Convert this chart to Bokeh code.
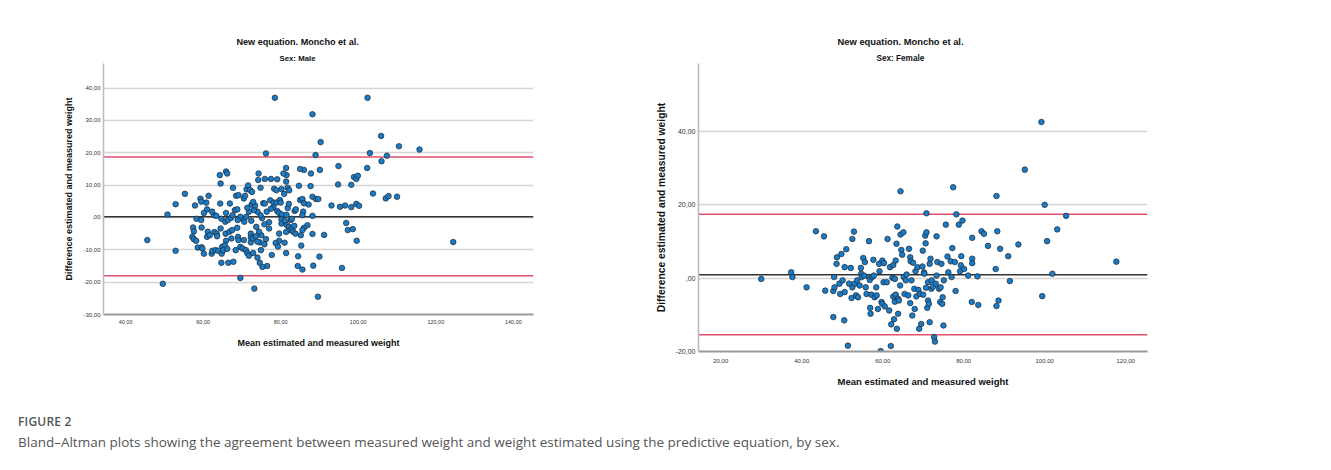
from bokeh.plotting import figure
from bokeh.models import Span, Title, CustomJSTickFormatter, FixedTicker, Range1d, Div
from bokeh.layouts import row, column
from bokeh.embed import file_html
from bokeh.resources import INLINE

# ---------------- data ----------------
male_mean = [45.6, 49.6, 50.8, 52.9, 52.9, 55.3, 78.5, 102.4, 88.2, 90.3, 76.2, 89.0, 105.9, 110.5, 115.8,
             103.0, 107.4, 102.3, 106.0, 94.9, 94.8, 98.2, 98.9, 99.5, 99.9, 103.8, 107.1, 107.8, 110.0, 124.5,
             93.1, 95.3, 96.6, 98.2, 99.5, 100.2, 96.9, 97.3, 98.6, 99.6, 95.8, 91.2, 90.0, 88.4, 89.6,
             84.5, 84.4, 85.6, 73.2, 69.6, 90.1, 88.2, 89.1, 89.7, 87.8, 87.7, 88.2, 88.2, 86.0, 85.0,
             84.7, 85.0, 85.6, 86.0, 87.2, 85.8, 85.6, 86.9, 86.0, 85.6, 85.2, 85.3, 81.4, 81.5, 80.7,
             81.4, 81.8, 82.2, 80.9, 80.2, 79.1, 77.5, 75.9, 74.3, 74.2, 74.8, 75.5, 75.9, 77.3, 78.2,
             78.9, 79.8, 80.0, 78.3, 78.9, 78.1, 77.5, 76.4, 79.1, 79.6, 80.3, 81.8, 82.1, 81.5, 82.6,
             82.9, 83.6, 83.9, 80.2, 80.2, 81.1, 81.6, 82.1, 82.5, 83.0, 83.5, 83.2, 83.8, 81.4, 81.0,
             81.4, 79.6, 79.6, 78.7, 79.3, 77.7, 76.5, 75.3, 74.6, 74.0, 74.9, 74.6, 75.8, 76.2, 75.0,
             74.4, 73.7, 77.0, 77.0, 75.8, 75.2, 74.8, 74.0, 73.1, 72.5, 73.4, 71.8, 71.1, 70.6, 69.9,
             69.6, 68.9, 68.2, 68.8, 68.5, 67.7, 69.1, 70.5, 70.8, 71.2, 71.6, 72.1, 72.6, 71.4, 72.9,
             65.9, 66.2, 64.3, 64.5, 64.4, 66.9, 65.9, 64.7, 65.7, 66.4, 67.2, 67.6, 62.8, 63.4, 62.3,
             61.0, 60.8, 61.4, 59.3, 59.5, 60.2, 57.9, 58.3, 59.5, 57.4, 57.6, 57.2, 57.6, 58.2, 58.6,
             59.6, 59.8, 60.2, 59.6, 61.2, 61.0, 61.7, 62.2, 62.4, 62.9, 63.5, 64.5, 63.6, 63.2, 63.9,
             64.8, 64.9, 65.2, 64.7, 65.9, 65.8, 65.6, 66.2, 66.5, 66.8, 67.5, 67.3, 67.8, 68.4, 68.8,
             69.0, 69.1, 69.6, 70.2, 70.5, 71.0, 71.4, 71.8, 72.3, 72.3, 72.3, 72.8, 72.4, 72.9, 73.6,
             74.0]
male_diff = [-7.0, -20.5, 0.9, 4.1, -10.3, 7.3, 37.0, 37.0, 31.9, 23.3, 19.8, 19.3, 25.2, 22.0, 21.0,
             19.9, 19.1, 15.3, 17.4, 15.9, 10.2, 10.1, 12.5, 11.9, 12.9, 7.4, 5.9, 6.6, 6.4, -7.6,
             3.7, 3.3, 3.7, 3.2, 4.2, 3.6, -1.7, -3.9, -3.6, -7.2, -15.6, -5.4, -12.1, -14.9, -24.5,
             -12.0, -15.0, -16.1, -22.0, -18.7, 14.7, 6.4, 5.7, 5.7, 13.6, 9.7, 0.5, -5.1, 14.7, 15.0,
             9.8, 5.4, 5.7, 4.4, 4.0, 1.8, 0.7, -2.4, -3.2, -3.9, -5.5, -8.7, 15.3, 13.1, 13.6,
             11.1, 9.2, 8.4, 7.3, 8.8, 11.8, 11.9, 11.9, 13.6, 11.6, 9.2, 4.4, 4.3, 5.3, 4.6,
             4.6, 5.4, 4.6, 8.9, 8.4, 3.2, 2.7, 1.8, 2.0, 1.4, 0.9, 2.9, 4.2, 0.8, -0.8,
             -0.4, 2.0, 2.5, -0.6, -1.9, -1.0, -2.4, -2.9, -3.9, -3.3, -2.6, -4.4, -5.0, -4.5, -7.8,
             -11.0, -5.0, -7.2, -7.9, -9.0, -11.6, -15.0, -15.3, -14.0, -12.4, -10.1, -7.7, -8.3, -6.7, -5.5,
             -4.4, -2.9, -3.4, -1.5, -2.1, -0.2, 0.7, 1.8, 2.3, 4.0, 3.7, 1.8, 0.2, -1.3, -0.3,
             0.2, -0.8, 2.3, 2.5, 6.7, 9.2, 6.9, 5.9, 6.7, 8.7, 9.9, 8.5, 7.9, 3.0, 4.8,
             14.2, 13.6, 13.1, 10.5, 4.3, 4.3, 1.4, -0.4, -1.3, -0.8, -0.1, 0.7, 0.7, 0.5, 1.8,
             2.5, 4.6, 6.7, 5.8, 4.9, 1.4, 3.7, -0.4, -0.8, -3.1, -4.3, -6.0, -6.7, -7.2, -9.3,
             -9.2, -9.6, -11.2, -3.1, -4.4, -6.0, -5.5, -11.2, -10.3, -4.5, -5.0, -3.4, -5.8, -10.1, -10.3,
             -11.2, -9.1, -10.1, -14.0, -7.2, -5.0, -8.6, -9.7, -14.0, -4.4, -3.9, -6.5, -13.7, -10.1, -3.2,
             -6.0, -7.0, -9.1, -9.6, -7.0, -10.1, -11.0, -11.8, -7.7, -5.0, -6.2, -6.5, -1.0, -11.0, -5.8,
             -7.5]

female_mean = [30.0, 37.4, 37.7, 41.2, 43.5, 45.5, 45.8, 47.8, 48.0, 47.8, 48.1, 48.6, 48.7, 49.3, 49.5,
               49.8, 50.1, 50.5, 50.6, 50.6, 51.0, 51.4, 51.7, 52.1, 52.3, 52.5, 52.5, 52.9, 53.1, 53.4,
               53.7, 53.9, 54.3, 54.6, 54.7, 54.8, 55.2, 55.4, 55.6, 55.8, 56.0, 56.6, 56.6, 56.8, 56.9,
               57.0, 57.2, 57.4, 57.7, 57.8, 58.0, 58.4, 58.5, 58.8, 59.1, 59.2, 59.5, 59.7, 59.9, 59.9,
               60.2, 60.3, 60.5, 61.0, 61.2, 61.6, 61.8, 62.0, 62.1, 62.4, 62.6, 62.6, 62.8, 63.0, 63.0,
               63.2, 63.2, 63.4, 63.5, 63.6, 63.8, 63.8, 64.0, 64.3, 64.4, 64.4, 64.6, 64.8, 65.1, 65.2,
               65.4, 65.7, 65.9, 66.3, 66.5, 66.8, 66.8, 66.9, 67.1, 67.3, 67.5, 67.8, 67.9, 68.1, 68.3,
               68.6, 68.8, 69.0, 69.2, 69.5, 69.8, 69.9, 70.0, 70.2, 70.3, 70.5, 70.6, 70.7, 70.8, 70.8,
               71.0, 71.2, 71.2, 71.4, 71.6, 71.6, 71.8, 72.0, 72.1, 72.4, 72.7, 72.9, 73.1, 73.3, 73.3,
               73.5, 73.9, 74.2, 74.3, 74.5, 74.7, 74.8, 75.0, 75.1, 75.6, 76.0, 76.2, 76.8, 77.0, 77.2,
               77.4, 77.8, 78.0, 78.2, 78.8, 79.1, 79.3, 79.4, 79.7, 80.1, 81.1, 82.1, 82.1, 82.1, 82.0,
               83.4, 83.6, 84.4, 85.0, 86.0, 87.9, 88.1, 88.3, 88.1, 88.6, 89.0, 91.0, 91.4, 93.5, 95.1,
               99.2, 99.4, 100.0, 100.6, 101.9, 103.1, 105.3, 117.7]
female_diff = [-0.2, 1.6, 0.3, -2.5, 12.8, 11.4, -3.4, -10.6, 0.3, -3.5, -2.5, 3.9, 5.7, -1.5, -4.3,
               6.6, -0.6, -11.5, 3.0, -3.8, 7.9, -18.4, -1.5, 2.8, -5.4, 10.7, -2.5, 12.7, -1.5, -4.7,
               -0.6, -5.2, -2.0, 2.8, 1.2, 0.3, 5.5, 0.7, 4.4, -2.5, -4.3, 10.1, 0.3, -0.5, -8.1,
               -9.7, -4.5, 0.3, 5.0, 0.7, -5.2, -2.5, -4.7, -8.4, 3.9, 1.9, -19.9, -6.5, 4.8, -7.0,
               -1.1, 4.1, -7.7, -1.1, 10.7, -8.8, 3.0, -18.5, -12.6, 0.1, 3.6, -5.0, -11.2, -6.4, -0.2,
               -4.5, 4.8, 9.4, -13.8, 14.1, -9.7, -5.6, -6.1, -2.0, 11.9, 23.7, 7.7, 6.4, 12.5, 0.3,
               -4.3, -0.6, 1.0, -4.7, 8.0, 5.7, -6.8, 4.6, -0.6, -10.2, 4.2, -2.9, -8.4, 1.9, -5.0,
               3.0, -3.2, -13.8, -4.3, -12.5, 3.2, 7.5, -4.5, 1.6, 1.2, 11.6, 9.5, -2.6, 17.7, 12.5,
               -8.1, -1.1, -6.1, -7.0, -12.0, 3.9, 5.3, -2.9, -0.6, -2.3, -16.1, -17.3, -1.5, 11.4, 0.7,
               4.4, -2.9, -6.5, -2.5, 3.9, -7.0, -5.2, -12.9, -0.6, 14.6, 5.9, 1.6, 4.6, 0.3, 8.2,
               24.8, 4.4, -3.5, 17.4, 14.6, 1.9, 3.5, 6.0, 15.7, 2.5, 0.7, 11.0, 5.3, 4.1, -6.5,
               0.5, -7.3, 12.8, 12.1, 8.8, 2.5, -7.6, 12.8, 22.4, -6.1, 8.0, 6.0, -0.8, 9.2, 29.6,
               42.6, -4.9, 20.0, 10.1, 1.2, 13.3, 17.0, 4.5]

# bias and limits of agreement: [lower, mean, upper]
male_limits = [-18.0, 0.2, 18.7]
female_limits = [-15.45, 0.93, 17.45]

male_xticks = [40, 60, 80, 100, 120, 140]
male_yticks = [-30, -20, -10, 0, 10, 20, 30, 40]
female_xticks = [20, 40, 60, 80, 100, 120]
female_yticks = [-20, 0, 20, 40]

title_text = "New equation. Moncho et al."
male_sub = "Sex: Male"
female_sub = "Sex: Female"
x_label = "Mean estimated and measured weight"
y_label = "Difference estimated and measured weight"
caption_head = "FIGURE 2"
caption_text = ("Bland\u2013Altman plots showing the agreement between measured weight and weight "
                "estimated using the predictive equation, by sex.")

# ---------------- styling helpers ----------------
FONT = "Liberation Sans"
fmt = CustomJSTickFormatter(code="""
let s = tick.toFixed(2).replace('.', ',');
if (s.startsWith('0,')) { s = s.slice(1); }
return s;
""")


def panel(xs, ys, limits, xticks, yticks, xr, yr, sub, geom, fonts, stand, toff):
    left, top, fw, fh, right, bottom = geom
    tick_x, tick_y, lab_x, lab_y, tsize, ssize = fonts
    xts, yts, xls, yls = stand
    p = figure(output_backend="svg", toolbar_location=None,
               frame_width=fw, frame_height=fh,
               min_border_left=left, min_border_top=top,
               min_border_right=right, min_border_bottom=bottom,
               x_range=Range1d(*xr), y_range=Range1d(*yr),
               background_fill_color="white", border_fill_color="white")
    p.outline_line_color = None
    p.xgrid.grid_line_color = None
    p.ygrid.grid_line_color = "#d6d6d6"
    p.ygrid.grid_line_width = 1.6
    p.xaxis.ticker = FixedTicker(ticks=xticks)
    p.yaxis.ticker = FixedTicker(ticks=yticks)
    for ax in (p.xaxis[0], p.yaxis[0]):
        ax.formatter = fmt
        ax.major_tick_line_color = None
        ax.minor_tick_line_color = None
        ax.major_tick_out = 0
        ax.major_tick_in = 0
        ax.minor_tick_out = 0
        ax.minor_tick_in = 0
        ax.major_label_text_font = FONT
        ax.major_label_text_color = "#333333"
        ax.axis_label_text_font = FONT
        ax.axis_label_text_font_style = "bold"
        ax.axis_label_text_color = "#111111"
    p.xaxis.axis_line_color = "#9a9a9a"
    p.xaxis.axis_line_width = 2
    p.yaxis.axis_line_color = "#bdbdbd"
    p.yaxis.axis_line_width = 1.6
    p.xaxis.major_label_text_font_size = f"{tick_x}px"
    p.yaxis.major_label_text_font_size = f"{tick_y}px"
    p.xaxis.major_label_standoff = xts
    p.yaxis.major_label_standoff = yts
    p.xaxis.axis_label = x_label
    p.yaxis.axis_label = y_label
    p.xaxis.axis_label_text_font_size = f"{lab_x}px"
    p.yaxis.axis_label_text_font_size = f"{lab_y}px"
    p.xaxis.axis_label_standoff = xls
    p.yaxis.axis_label_standoff = yls

    for val, col in zip(limits, ["#e0506e", "#333333", "#e0506e"]):
        s = Span(location=val, dimension="width", line_color=col, line_width=1.6, level="underlay")
        p.add_layout(s)

    p.scatter(xs, ys, size=5.6, fill_color="#1b7bc4", line_color="#1c2633", line_width=0.7)

    st = Title(text=sub, text_font=FONT, text_font_size=f"{ssize}px", text_font_style="bold",
               align="left", offset=toff[1], standoff=2, text_color="#111111")
    p.add_layout(st, "above")
    mt = Title(text=title_text, text_font=FONT, text_font_size=f"{tsize}px", text_font_style="bold",
               align="left", offset=toff[0], standoff=8, text_color="#111111")
    p.add_layout(mt, "above")
    return p


p1 = panel(male_mean, male_diff, male_limits, male_xticks, male_yticks,
           (34.3, 145.2), (-30.0, 47.6), male_sub,
           (103, 63, 430, 251, 107, 81), (5.5, 6, 9, 9, 9.1, 7.8), (5, 3, 11, 6), (133, 176))
p2 = panel(female_mean, female_diff, female_limits, female_xticks, female_yticks,
           (14.5, 125.4), (-20.0, 58.55), female_sub,
           (58, 63, 449, 288, 178, 44), (6, 7, 9.5, 10.3, 9.4, 8.2), (7, 3, 10, 6), (139, 178))

cap = Div(text=(f'<div style="font-family:\'Open Sans\';font-size:12px;line-height:16px;color:#555555;'
                f'font-weight:600;letter-spacing:0.2px">{caption_head}</div>'
                f'<div style="font-family:\'Open Sans\';font-size:13.5px;line-height:20px;color:#555555;'
                f'margin-top:2px">{caption_text}</div>'),
          width=1325, height=70, margin=(0, 0, 0, 0),
          styles={"padding-left": "18px", "padding-top": "19px"})

layout = column(row(p1, p2, spacing=0), cap, spacing=0)
open("out.html", "w").write(file_html(layout, INLINE))
